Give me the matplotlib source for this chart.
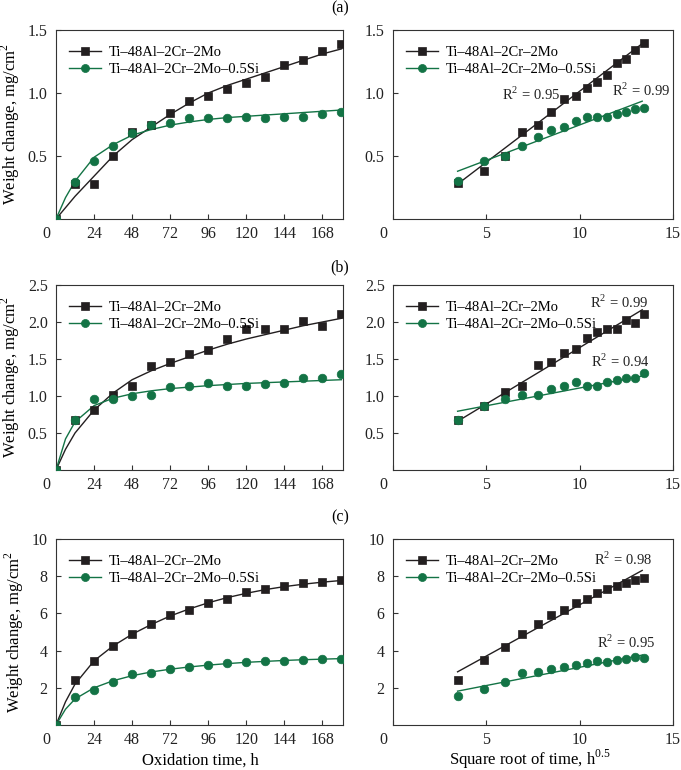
import matplotlib
matplotlib.use("Agg")
import matplotlib.pyplot as plt

plt.rcParams['font.family'] = ['Liberation Serif', 'DejaVu Serif']
plt.rcParams['mathtext.fontset'] = 'custom'
plt.rcParams['mathtext.rm'] = 'Liberation Serif'

BLACK = '#231f20'
GREEN = '#137345'
labels = ['Ti–48Al–2Cr–2Mo', 'Ti–48Al–2Cr–2Mo–0.5Si']

# ---- data: oxidation time (h) ----
time_h = [0, 12, 24, 36, 48, 60, 72, 84, 96, 108, 120, 132, 144, 156, 168, 180]
# fitted-curve sample times
fit_t = [0, 6, 12, 24, 36, 48, 60, 72, 84, 96, 108, 120, 132, 144, 156, 168, 180]
# square root of time, h^0.5
sqrt_t = [3.46, 4.90, 6.00, 6.93, 7.75, 8.49, 9.17, 9.80, 10.39, 10.95, 11.49, 12.00, 12.49, 12.96, 13.42]

# (a)
a_base = [0, 0.28, 0.28, 0.50, 0.69, 0.75, 0.84, 0.94, 0.98, 1.03, 1.08, 1.13, 1.22, 1.26, 1.33, 1.39]
a_si = [0, 0.29, 0.46, 0.58, 0.68, 0.75, 0.76, 0.80, 0.80, 0.80, 0.81, 0.80, 0.81, 0.81, 0.83, 0.85]
a_base_fit = [0, 0.09, 0.18, 0.34, 0.50, 0.63, 0.73, 0.83, 0.92, 1.00, 1.06, 1.11, 1.16, 1.21, 1.26, 1.31, 1.35]
a_si_fit = [0, 0.17, 0.30, 0.49, 0.59, 0.665, 0.71, 0.745, 0.77, 0.79, 0.805, 0.815, 0.825, 0.835, 0.845, 0.855, 0.865]
a_base_r = [0.285, 0.38, 0.50, 0.69, 0.75, 0.85, 0.95, 0.98, 1.04, 1.09, 1.14, 1.24, 1.27, 1.34, 1.40]
a_si_r = [0.30, 0.46, 0.50, 0.58, 0.65, 0.71, 0.73, 0.78, 0.81, 0.81, 0.81, 0.83, 0.85, 0.87, 0.88]
a_base_line = [0.277, 1.392]
a_si_line = [0.379, 0.935]

# (b)
b_base = [0, 0.68, 0.81, 1.02, 1.13, 1.41, 1.46, 1.57, 1.62, 1.77, 1.90, 1.90, 1.90, 2.02, 1.95, 2.11]
b_si = [0, 0.67, 0.96, 0.96, 1.00, 1.02, 1.12, 1.13, 1.17, 1.13, 1.13, 1.16, 1.18, 1.25, 1.25, 1.30]
b_base_fit = [0, 0.28, 0.50, 0.81, 1.04, 1.22, 1.34, 1.44, 1.53, 1.62, 1.70, 1.77, 1.83, 1.89, 1.95, 2.00, 2.05]
b_si_fit = [0, 0.42, 0.65, 0.87, 0.97, 1.03, 1.07, 1.10, 1.12, 1.14, 1.155, 1.17, 1.18, 1.19, 1.20, 1.21, 1.22]
b_base_r = [0.68, 0.86, 1.06, 1.13, 1.42, 1.46, 1.58, 1.63, 1.78, 1.86, 1.91, 1.91, 2.03, 1.98, 2.11]
b_si_r = [0.68, 0.87, 0.96, 1.01, 1.01, 1.09, 1.13, 1.19, 1.13, 1.14, 1.19, 1.22, 1.25, 1.25, 1.31]
b_base_line = [0.658, 2.165]
b_si_line = [0.794, 1.269]

# (c)
c_base = [0, 2.41, 3.44, 4.25, 4.89, 5.43, 5.90, 6.19, 6.55, 6.78, 7.16, 7.29, 7.50, 7.63, 7.68, 7.77]
c_si = [0, 1.48, 1.87, 2.32, 2.74, 2.81, 3.02, 3.10, 3.22, 3.33, 3.37, 3.42, 3.46, 3.49, 3.56, 3.55]
c_base_fit = [0, 1.25, 2.20, 3.45, 4.25, 4.88, 5.40, 5.86, 6.24, 6.57, 6.85, 7.08, 7.28, 7.44, 7.57, 7.68, 7.77]
c_si_fit = [0, 0.85, 1.40, 2.00, 2.38, 2.65, 2.85, 3.00, 3.12, 3.22, 3.30, 3.37, 3.42, 3.47, 3.51, 3.54, 3.57]
c_base_r = [2.41, 3.49, 4.21, 4.88, 5.42, 5.90, 6.19, 6.55, 6.78, 7.12, 7.30, 7.47, 7.66, 7.77, 7.88]
c_si_r = [1.55, 1.91, 2.32, 2.77, 2.83, 3.02, 3.13, 3.22, 3.31, 3.44, 3.40, 3.49, 3.55, 3.67, 3.60]
c_base_line = [2.86, 8.31]
c_si_line = [1.82, 3.76]

line_x = [3.46, 13.35]

panels = [
    dict(tag='(a)', ylim=1.5, yt=[0.5, 1.0, 1.5], yfmt='{:.1f}',
         base=a_base, si=a_si, bfit=a_base_fit, sfit=a_si_fit,
         br=a_base_r, sr=a_si_r, bl=a_base_line, sl=a_si_line,
         r2=[('R$^2$ = 0.95', 5.85, 0.99), ('R$^2$ = 0.99', 11.75, 1.02)]),
    dict(tag='(b)', ylim=2.5, yt=[0.5, 1.0, 1.5, 2.0, 2.5], yfmt='{:.1f}',
         base=b_base, si=b_si, bfit=b_base_fit, sfit=b_si_fit,
         br=b_base_r, sr=b_si_r, bl=b_base_line, sl=b_si_line,
         r2=[('R$^2$ = 0.99', 10.55, 2.265), ('R$^2$ = 0.94', 10.6, 1.47)]),
    dict(tag='(c)', ylim=10, yt=[2, 4, 6, 8, 10], yfmt='{:d}',
         base=c_base, si=c_si, bfit=c_base_fit, sfit=c_si_fit,
         br=c_base_r, sr=c_si_r, bl=c_base_line, sl=c_si_line,
         r2=[('R$^2$ = 0.98', 10.75, 8.88), ('R$^2$ = 0.95', 10.95, 4.43)]),
]

W, H = 681, 770
fig = plt.figure(figsize=(W / 100, H / 100), dpi=100)

rows = [(30, 219), (285, 470), (539, 725)]
tag_y = [8, 267, 517]
LX0, LX1 = 56, 343
RX0, RX1 = 393, 673

TICK_FS = 11.5
LEG_FS = 10.5
LAB_FS = 12
MS_SQ = 5.6
MS_CI = 6.2

def style(ax):
    for s in ax.spines.values():
        s.set_linewidth(0.8)
        s.set_color('#333333')
    ax.tick_params(direction='in', length=3.5, width=0.8, labelsize=TICK_FS,
                   colors='#333333', labelcolor='#222222', pad=6)
    ax.tick_params(axis='x', pad=5)

def corner_zero(ax):
    ax.annotate('0', xy=(0, 0), xycoords='axes fraction', xytext=(-10, -7),
                textcoords='offset pixels', ha='center', va='top',
                fontsize=TICK_FS, color='#222222')

def add_legend(ax):
    lb, = ax.plot([], [], color=BLACK, lw=1.0, marker='s', ms=MS_SQ - 0.4, mew=0.5)
    ls_, = ax.plot([], [], color=GREEN, lw=1.0, marker='o', ms=MS_CI - 0.4, mew=0.5)
    ax.legend([lb, ls_], labels, loc='upper left', frameon=False, fontsize=LEG_FS,
              handlelength=2.2, handletextpad=0.5, labelspacing=0.25,
              bbox_to_anchor=(0.0, 0.985), borderaxespad=0.5)

for i, p in enumerate(panels):
    top, bot = rows[i]
    fb = 1 - bot / H
    fh = (bot - top) / H
    axl = fig.add_axes([LX0 / W, fb, (LX1 - LX0) / W, fh])
    axr = fig.add_axes([RX0 / W, fb, (RX1 - RX0) / W, fh])

    # left panel: kinetics
    axl.plot(fit_t, p['bfit'], color=BLACK, lw=1.0, zorder=2)
    axl.plot(fit_t, p['sfit'], color=GREEN, lw=1.0, zorder=2)
    axl.plot(time_h, p['base'], ls='none', marker='s', ms=MS_SQ, mew=0.5, color=BLACK, zorder=3)
    axl.plot(time_h, p['si'], ls='none', marker='o', ms=MS_CI, mew=0.5, color=GREEN, zorder=4)
    add_legend(axl)
    axl.set_xlim(0, 181)
    axl.set_ylim(0, p['ylim'])
    axl.set_xticks([0, 24, 48, 72, 96, 120, 144, 168])
    axl.set_xticklabels([''] + [str(v) for v in [24, 48, 72, 96, 120, 144, 168]])
    axl.set_yticks(p['yt'])
    axl.set_yticklabels([p['yfmt'].format(v) for v in p['yt']])
    style(axl)
    corner_zero(axl)
    axl.set_ylabel('Weight change, mg/cm$^2$', fontsize=LAB_FS, labelpad=4)

    # right panel: parabolic plot
    axr.plot(line_x, p['bl'], color=BLACK, lw=1.0, zorder=2)
    axr.plot(line_x, p['sl'], color=GREEN, lw=1.0, zorder=2)
    axr.plot(sqrt_t, p['br'], ls='none', marker='s', ms=MS_SQ, mew=0.5, color=BLACK, zorder=3)
    axr.plot(sqrt_t, p['sr'], ls='none', marker='o', ms=MS_CI, mew=0.5, color=GREEN, zorder=4)
    add_legend(axr)
    for txt, x, y in p['r2']:
        axr.text(x, y, txt, fontsize=LEG_FS, ha='left', va='center', color='#222222')
    axr.set_xlim(0, 15)
    axr.set_ylim(0, p['ylim'])
    axr.set_xticks([0, 5, 10, 15])
    axr.set_xticklabels(['', '5', '10', '15'])
    axr.set_yticks(p['yt'])
    axr.set_yticklabels([p['yfmt'].format(v) for v in p['yt']])
    style(axr)
    corner_zero(axr)

    fig.text(340 / W, 1 - tag_y[i] / H, p['tag'], ha='center', va='center', fontsize=LAB_FS - 0.5)

fig.text(200 / W, 1 - 765 / H, 'Oxidation time, h', ha='center', va='baseline', fontsize=LAB_FS)
fig.text(530 / W, 1 - 765 / H, 'Square root of time, h$^{0.5}$', ha='center', va='baseline', fontsize=LAB_FS)

fig.savefig('out.png', dpi=100)
